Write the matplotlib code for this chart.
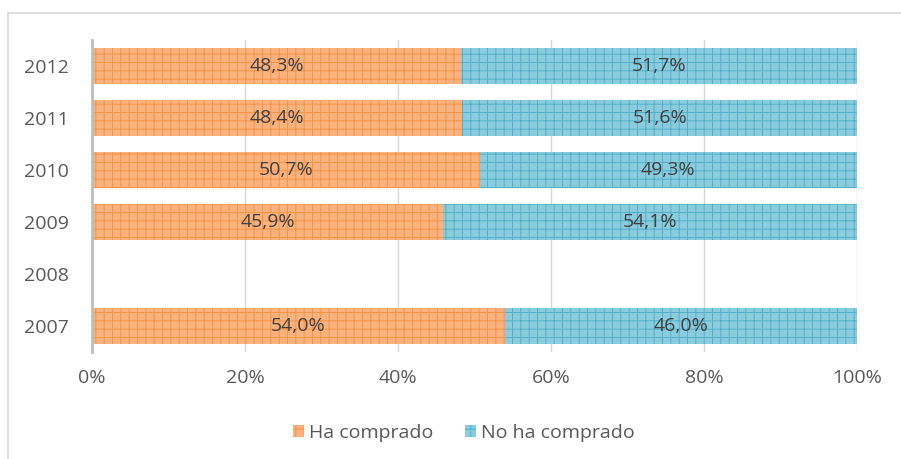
import matplotlib
matplotlib.use("Agg")
import matplotlib.pyplot as plt
from matplotlib.patches import Rectangle
import numpy as np

years = ["2007", "2008", "2009", "2010", "2011", "2012"]
ha_comprado = [54.0, None, 45.9, 50.7, 48.4, 48.3]
no_ha_comprado = [46.0, None, 54.1, 49.3, 51.6, 51.7]
xticks = [0, 20, 40, 60, 80, 100]

plt.rcParams['font.family'] = ['Open Sans', 'DejaVu Sans']
plt.rcParams['hatch.linewidth'] = 0.7

W, H = 901, 459
fig = plt.figure(figsize=(W / 100, H / 100), dpi=100)
fig.patch.set_facecolor("white")

# outer chart frame
fig.patches.append(Rectangle((8 / W, -0.1), 1.2, 1 - 13 / H + 0.1,
                             transform=fig.transFigure, fill=False,
                             edgecolor="#D9D9D9", linewidth=1.2))

ax = fig.add_axes([92 / W, 1 - 352 / H, (857 - 92) / W, (352 - 40) / H])

orange_face, orange_hatch = "#FAB27E", "#F69447"
blue_face, blue_hatch = "#8ACCDD", "#52B0CA"

ypos = np.arange(len(years))
for i, (a, b) in enumerate(zip(ha_comprado, no_ha_comprado)):
    if a is None:
        continue
    ax.barh(i, a, height=0.69, color=orange_face, edgecolor=orange_hatch,
            hatch="++", linewidth=0, zorder=2)
    ax.barh(i, b, left=a, height=0.69, color=blue_face, edgecolor=blue_hatch,
            hatch="++", linewidth=0, zorder=2)
    ax.text(a / 2, i, f"{a:.1f}%".replace(".", ","), ha="center", va="center",
            fontsize=14, color="#404040", zorder=3)
    ax.text(a + b / 2, i, f"{b:.1f}%".replace(".", ","), ha="center", va="center",
            fontsize=14, color="#404040", zorder=3)

ax.set_xlim(0, 100)
ax.set_ylim(-0.5, len(years) - 0.5)
ax.set_xticks(xticks)
ax.set_xticklabels([f"{t}%" for t in xticks])
ax.set_yticks(ypos)
ax.set_yticklabels(years)
ax.tick_params(axis="both", length=0, labelsize=14, labelcolor="#595959")
ax.tick_params(axis="x", pad=12)
ax.tick_params(axis="y", pad=17)
ax.grid(axis="x", color="#D9D9D9", linewidth=1, zorder=0)
for s in ["top", "right", "bottom"]:
    ax.spines[s].set_visible(False)
ax.spines["left"].set_color("#BFBFBF")
ax.spines["left"].set_linewidth(2)
ax.spines["left"].set_zorder(4)

handles = [Rectangle((0, 0), 1, 1, facecolor=orange_face, edgecolor=orange_hatch,
                     hatch="++", linewidth=0),
           Rectangle((0, 0), 1, 1, facecolor=blue_face, edgecolor=blue_hatch,
                     hatch="++", linewidth=0)]
fig.legend(handles, ["Ha comprado", "No ha comprado"], loc="center",
           bbox_to_anchor=(464 / W, 1 - 433 / H), ncol=2, frameon=False,
           fontsize=14, labelcolor="#595959", handlelength=0.55, handleheight=0.55,
           handletextpad=0.3, columnspacing=1.6)

fig.savefig("out.png", dpi=100, facecolor="white")
